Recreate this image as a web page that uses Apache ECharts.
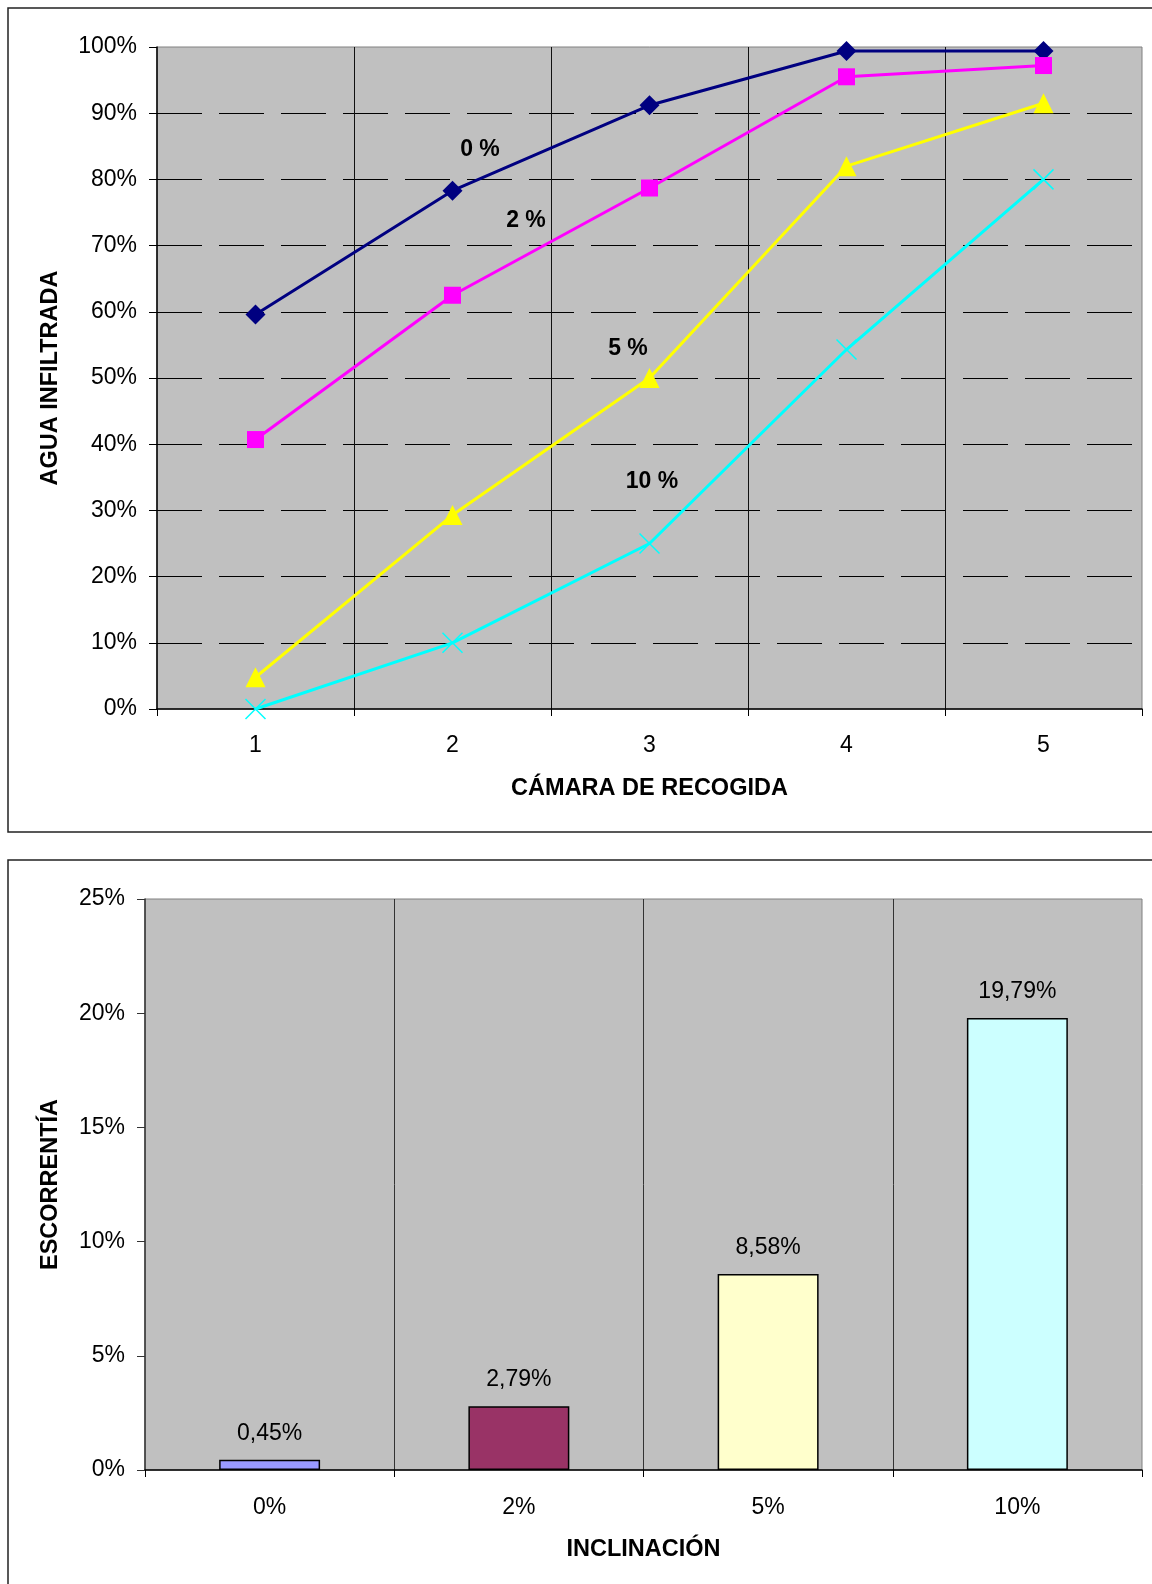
<!DOCTYPE html>
<html>
<head>
<meta charset="utf-8">
<script src="https://cdn.jsdelivr.net/npm/echarts@6/dist/echarts.min.js"></script>
<style>
html,body{margin:0;padding:0;background:#fff;}
#chart{width:1152px;height:1584px;}
</style>
</head>
<body>
<div id="chart"></div>
<script>
// ---- Data ----
var camaras = ['1', '2', '3', '4', '5'];
var infil0 = [59.6, 78.3, 91.2, 99.4, 99.4];
var infil2 = [40.7, 62.5, 78.7, 95.5, 97.2];
var infil5 = [4.8, 29.3, 50.0, 82.0, 91.5];
var infil10 = [0, 10.0, 25.0, 54.3, 80.0];
var seriesNames = ['0 %', '2 %', '5 %', '10 %'];

var inclinaciones = ['0%', '2%', '5%', '10%'];
var escorrentia = [0.45, 2.79, 8.58, 19.79];

var FONT = '"Liberation Sans", Arial, sans-serif';
var chart = echarts.init(document.getElementById('chart'), null, {renderer: 'canvas'});

var barColors = ['#9999FF', '#993366', '#FFFFCC', '#CCFFFF'];

var option = {
  backgroundColor: '#ffffff',
  animation: false,
  textStyle: {fontFamily: FONT},
  grid: [
    {left: 157, top: 47, right: 10, height: 662, show: true, backgroundColor: '#C0C0C0', borderColor: '#808080', borderWidth: 1},
    {left: 145, top: 899, right: 10, height: 571, show: true, backgroundColor: '#C0C0C0', borderColor: '#808080', borderWidth: 1}
  ],
  xAxis: [
    {
      gridIndex: 0, type: 'category', data: camaras, boundaryGap: true,
      name: 'CÁMARA DE RECOGIDA', nameLocation: 'middle', nameGap: 68,
      nameTextStyle: {fontFamily: FONT, fontSize: 23.5, fontWeight: 'bold', color: '#000'},
      axisLine: {lineStyle: {color: '#000', width: 1.5}},
      axisTick: {show: true, length: 7, lineStyle: {color: '#000'}},
      axisLabel: {fontFamily: FONT, fontSize: 23, color: '#000', margin: 25},
      splitLine: {show: true, showMinLine: false, showMaxLine: false, lineStyle: {color: '#111', width: 1}}
    },
    {
      gridIndex: 1, type: 'category', data: inclinaciones, boundaryGap: true,
      name: 'INCLINACIÓN', nameLocation: 'middle', nameGap: 68,
      nameTextStyle: {fontFamily: FONT, fontSize: 23.5, fontWeight: 'bold', color: '#000'},
      axisLine: {lineStyle: {color: '#000', width: 1.5}},
      axisTick: {show: true, length: 7, lineStyle: {color: '#000'}},
      axisLabel: {fontFamily: FONT, fontSize: 23, color: '#000', margin: 26},
      splitLine: {show: true, showMinLine: false, showMaxLine: false, lineStyle: {color: '#333', width: 1}}
    }
  ],
  yAxis: [
    {
      gridIndex: 0, type: 'value', min: 0, max: 100, interval: 10,
      name: 'AGUA INFILTRADA', nameLocation: 'middle', nameGap: 94, nameRotate: 90,
      nameTextStyle: {fontFamily: FONT, fontSize: 23.5, fontWeight: 'bold', color: '#000'},
      axisLine: {show: true, lineStyle: {color: '#000', width: 1.5}},
      axisTick: {show: true, length: 8, lineStyle: {color: '#000'}},
      axisLabel: {fontFamily: FONT, fontSize: 23, color: '#000', margin: 20, formatter: function (v) { return v + '%'; }},
      splitLine: {show: true, showMinLine: false, showMaxLine: false, lineStyle: {color: '#000', width: 1, type: [45, 17]}}
    },
    {
      gridIndex: 1, type: 'value', min: 0, max: 25, interval: 5,
      name: 'ESCORRENTÍA', nameLocation: 'middle', nameGap: 82, nameRotate: 90,
      nameTextStyle: {fontFamily: FONT, fontSize: 23.5, fontWeight: 'bold', color: '#000'},
      axisLine: {show: true, lineStyle: {color: '#333', width: 1.5}},
      axisTick: {show: true, length: 8, lineStyle: {color: '#333'}},
      axisLabel: {fontFamily: FONT, fontSize: 23, color: '#000', margin: 20, formatter: function (v) { return v + '%'; }},
      splitLine: {show: false}
    }
  ],
  series: [
    {
      name: seriesNames[0], type: 'line', xAxisIndex: 0, yAxisIndex: 0, data: infil0,
      symbol: 'diamond', symbolSize: 20,
      lineStyle: {color: '#000080', width: 3}, itemStyle: {color: '#000080'}
    },
    {
      name: seriesNames[1], type: 'line', xAxisIndex: 0, yAxisIndex: 0, data: infil2,
      symbol: 'rect', symbolSize: 17,
      lineStyle: {color: '#FF00FF', width: 3}, itemStyle: {color: '#FF00FF'}
    },
    {
      name: seriesNames[2], type: 'line', xAxisIndex: 0, yAxisIndex: 0, data: infil5,
      symbol: 'triangle', symbolSize: 20,
      lineStyle: {color: '#FFFF00', width: 3}, itemStyle: {color: '#FFFF00'}
    },
    {
      name: seriesNames[3], type: 'line', xAxisIndex: 0, yAxisIndex: 0, data: infil10,
      symbol: 'path://M0,0L10,10M10,0L0,10', symbolSize: 20,
      lineStyle: {color: '#00FFFF', width: 3}, itemStyle: {color: 'none', borderColor: '#00FFFF', borderWidth: 1.5}
    },
    {
      name: 'Escorrentía', type: 'bar', xAxisIndex: 1, yAxisIndex: 1,
      data: escorrentia.map(function (v, i) {
        return {value: v, itemStyle: {color: barColors[i], borderColor: '#000', borderWidth: 1.5}};
      }),
      barCategoryGap: '59.5%',
      label: {
        show: true, position: 'top', distance: 15, fontFamily: FONT, fontSize: 23, color: '#000',
        formatter: function (p) { return p.value.toFixed(2).replace('.', ',') + '%'; }
      }
    }
  ],
  graphic: [
    {type: 'rect', shape: {x: 8, y: 8, width: 1160, height: 824}, style: {fill: 'none', stroke: '#222', lineWidth: 1.5}, z: -10, silent: true},
    {type: 'rect', shape: {x: 8, y: 860, width: 1160, height: 740}, style: {fill: 'none', stroke: '#222', lineWidth: 1.5}, z: -10, silent: true},
    {type: 'text', x: 480, y: 150, style: {text: seriesNames[0], font: 'bold 23px ' + FONT, fill: '#000', textAlign: 'center', textVerticalAlign: 'middle'}, z: 100},
    {type: 'text', x: 526, y: 221, style: {text: seriesNames[1], font: 'bold 23px ' + FONT, fill: '#000', textAlign: 'center', textVerticalAlign: 'middle'}, z: 100},
    {type: 'text', x: 628, y: 349, style: {text: seriesNames[2], font: 'bold 23px ' + FONT, fill: '#000', textAlign: 'center', textVerticalAlign: 'middle'}, z: 100},
    {type: 'text', x: 652, y: 482, style: {text: seriesNames[3], font: 'bold 23px ' + FONT, fill: '#000', textAlign: 'center', textVerticalAlign: 'middle'}, z: 100}
  ]
};
chart.setOption(option);
</script>
</body>
</html>
